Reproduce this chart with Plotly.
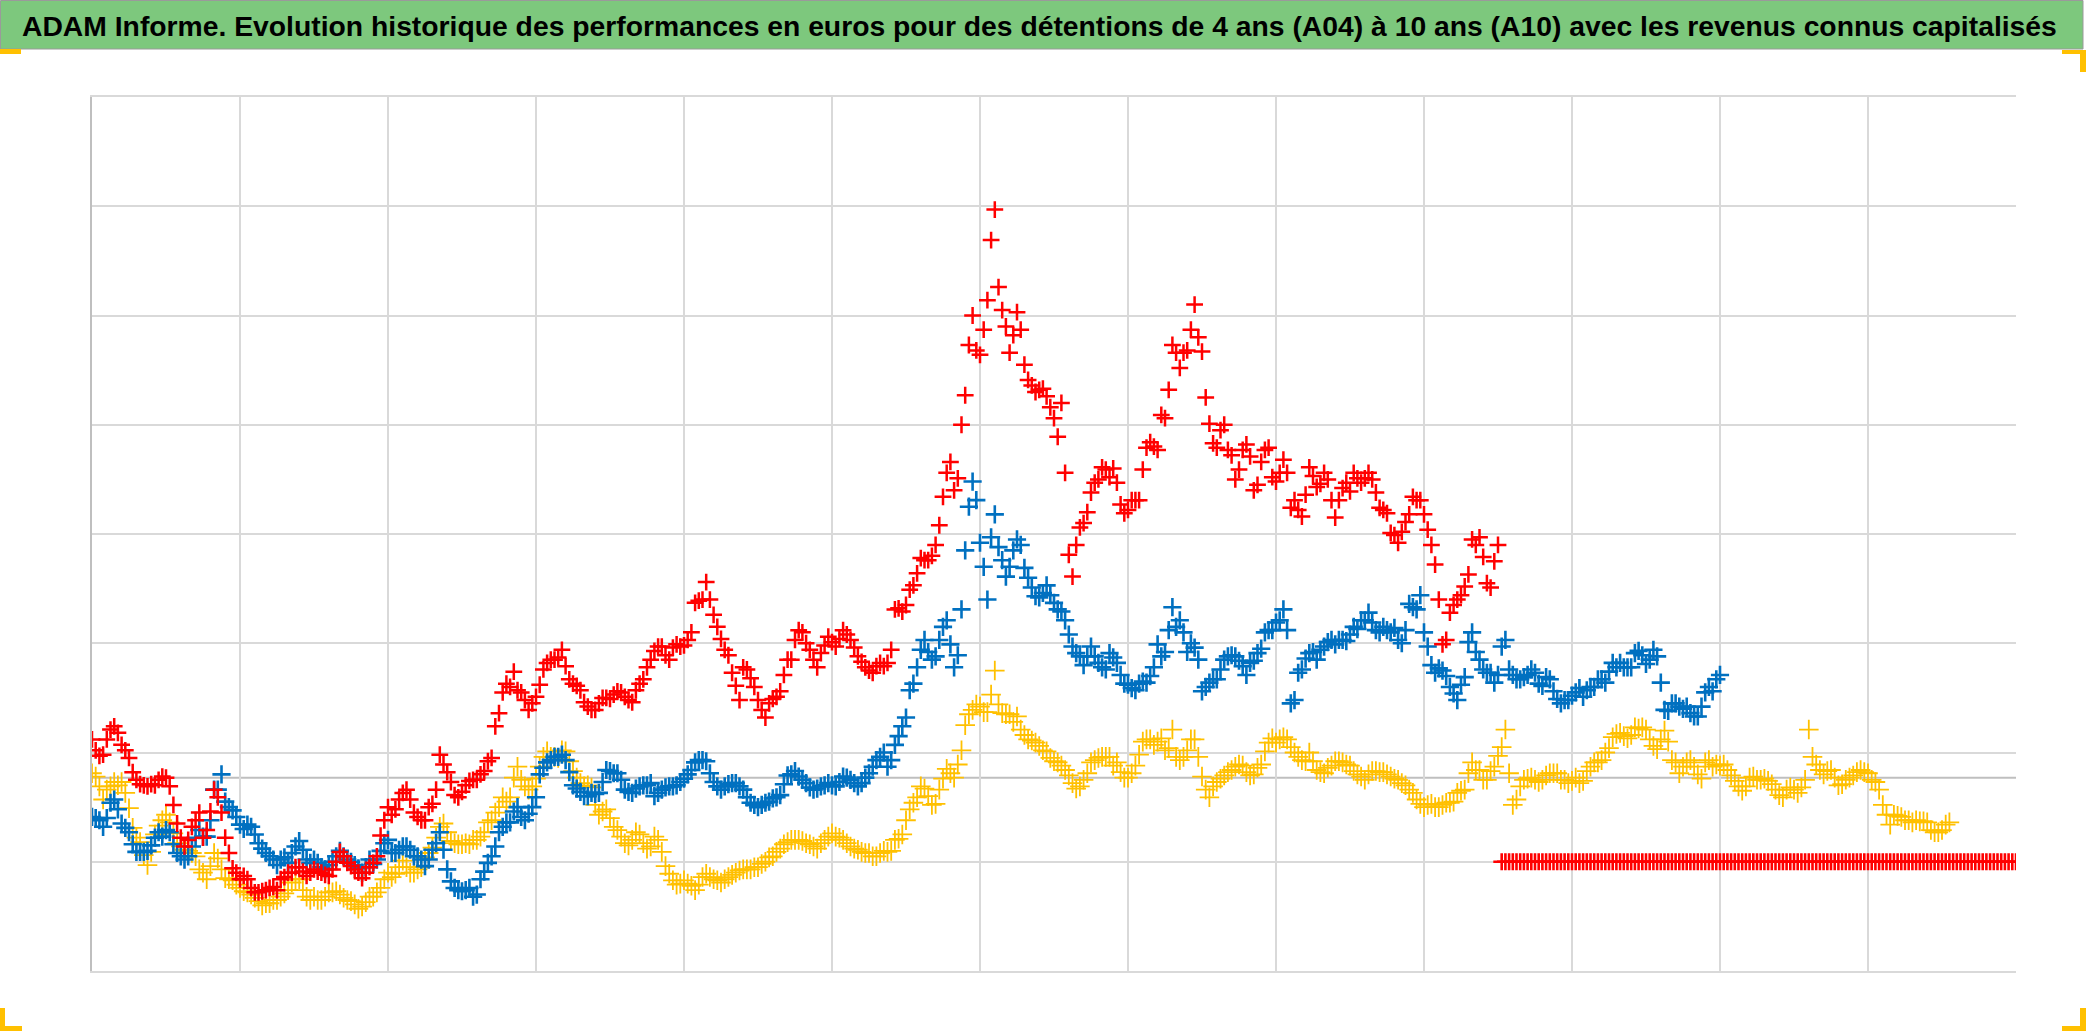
import plotly.graph_objects as go

# ---------------- data (x in grid-interval units, y in grid-interval units) ----------------
HALF_STEP = 0.025   # spacing between consecutive observations

# A10 (red): observations at even positions, then the in-between observations
a10_red = [1.12, 0.97, 1.12, 1.24, 1.07, 0.95, 0.75, 0.70, 0.71, 0.75,
           0.77, 0.52, 0.22, 0.20, 0.38, 0.22, 0.46, 0.59, 0.22, -0.06,
           -0.16, -0.16, -0.28, -0.27, -0.24, -0.26, -0.14, -0.10, -0.05, -0.13,
           -0.07, -0.10, -0.13, 0.00, 0.05, -0.04, -0.10, -0.10, -0.01, 0.24,
           0.50, 0.48, 0.63, 0.57, 0.41, 0.38, 0.53, 0.98, 0.82, 0.61,
           0.64, 0.74, 0.75, 0.83, 0.95, 1.36, 1.63, 1.74, 1.55, 1.39,
           1.51, 1.76, 1.85, 1.87, 1.79, 1.63, 1.57, 1.42, 1.39, 1.50,
           1.49, 1.56, 1.51, 1.46, 1.63, 1.78, 1.93, 1.97, 1.85, 1.99,
           1.98, 2.10, 2.39, 2.56, 2.26, 2.04, 1.89, 1.61, 1.78, 1.68,
           1.48, 1.32, 1.49, 1.56, 1.85, 2.03, 2.10, 1.94, 1.78, 1.98,
           2.01, 2.04, 2.08, 1.96, 1.83, 1.75, 1.79, 1.79, 1.94, 2.32,
           2.35, 2.53, 2.78, 2.76, 2.90, 3.34, 3.66, 3.51, 4.27, 5.00,
           4.64, 5.14, 5.97, 5.05, 4.66, 5.03, 4.55, 4.36, 4.32, 4.26,
           4.06, 4.20, 2.81, 2.90, 3.10, 3.38, 3.50, 3.59, 3.60, 3.27,
           3.22, 3.31, 3.59, 3.84, 3.77, 4.06, 4.73, 4.52, 4.68, 5.10,
           4.67, 4.01, 3.79, 4.00, 3.72, 3.59, 3.82, 3.40, 3.66, 3.79,
           3.48, 3.68, 3.24, 3.22, 3.36, 3.53, 3.46, 3.50, 3.15, 3.42,
           3.39, 3.51, 3.51, 3.50, 3.24, 3.19, 2.99, 3.02, 3.18, 3.31,
           3.18, 2.90, 2.40, 2.03, 2.35, 2.44, 2.63, 2.90, 2.79, 2.51,
           2.90]
a10_red_mid = [1.02, 0.98, 1.21, 1.18, 1.02, 0.82, 0.71, 0.69, 0.70, 0.78,
               0.69, 0.35, 0.14, 0.32, 0.45, 0.29, 0.66, 0.45, 0.08, -0.10,
               -0.13, -0.24, -0.28, -0.26, -0.23, -0.16, -0.10, -0.05, -0.09, -0.10,
               -0.09, -0.12, -0.07, 0.09, -0.01, -0.07, -0.15, -0.05, 0.05, 0.38,
               0.43, 0.57, 0.66, 0.45, 0.38, 0.50, 0.66, 0.89, 0.73, 0.59,
               0.70, 0.75, 0.80, 0.92, 1.24, 1.55, 1.60, 1.57, 1.48, 1.45,
               1.62, 1.82, 1.85, 1.94, 1.67, 1.61, 1.46, 1.39, 1.45, 1.50,
               1.53, 1.55, 1.48, 1.57, 1.67, 1.85, 1.97, 1.89, 1.96, 1.97,
               2.03, 2.37, 2.40, 2.40, 2.15, 1.94, 1.73, 1.48, 1.76, 1.60,
               1.39, 1.45, 1.51, 1.71, 1.85, 2.12, 2.00, 1.85, 1.91, 2.06,
               1.97, 2.12, 2.03, 1.88, 1.78, 1.73, 1.82, 1.82, 2.31, 2.29,
               2.49, 2.64, 2.76, 2.80, 3.08, 3.56, 3.40, 4.00, 4.73, 4.68,
               4.87, 5.69, 5.26, 4.90, 4.82, 4.87, 4.41, 4.30, 4.33, 4.16,
               3.89, 3.56, 2.61, 3.06, 3.20, 3.47, 3.61, 3.52, 3.47, 3.19,
               3.31, 3.31, 3.79, 3.80, 4.09, 4.32, 4.66, 4.66, 4.87, 4.80,
               4.25, 3.83, 3.95, 3.77, 3.50, 3.77, 3.71, 3.45, 3.77, 3.52,
               3.56, 3.56, 3.31, 3.16, 3.61, 3.43, 3.56, 3.31, 3.31, 3.47,
               3.56, 3.47, 3.56, 3.38, 3.22, 3.01, 2.92, 3.11, 3.34, 3.31,
               3.04, 2.72, 1.99, 2.28, 2.40, 2.52, 2.95, 2.97, 2.55, 2.75]
a10_red_empty = [0.0] * 140   # later dates without a known value, plotted at 0

blue_mid = [0.41, 0.38, 0.40, 0.57, 0.35, 0.27, 0.09, 0.09, 0.15, 0.27,
            0.29, 0.16, 0.05, 0.05, 0.22, 0.23, 0.38, 0.66, 0.55, 0.47,
            0.34, 0.34, 0.25, 0.12, 0.05, -0.03, 0.04, 0.08, 0.19, 0.02,
            0.02, -0.05, -0.03, 0.05, 0.05, 0.00, -0.06, -0.05, -0.02, 0.10,
            0.20, 0.08, 0.14, 0.11, 0.05, -0.04, 0.11, 0.27, -0.07, -0.24,
            -0.27, -0.24, -0.30, -0.09, 0.05, 0.27, 0.36, 0.46, 0.41, 0.44,
            0.59, 0.86, 0.93, 0.96, 0.93, 0.70, 0.64, 0.60, 0.62, 0.73,
            0.83, 0.81, 0.66, 0.63, 0.69, 0.70, 0.60, 0.66, 0.69, 0.70,
            0.76, 0.84, 0.93, 0.92, 0.73, 0.66, 0.71, 0.72, 0.66, 0.54,
            0.50, 0.54, 0.58, 0.61, 0.79, 0.83, 0.75, 0.68, 0.67, 0.70,
            0.70, 0.73, 0.77, 0.72, 0.72, 0.81, 0.93, 1.00, 0.93, 1.15,
            1.32, 1.63, 1.94, 1.92, 1.88, 2.15, 1.99, 1.89, 2.85, 3.48,
            2.92, 2.40, 3.18, 2.76, 2.70, 2.95, 2.69, 2.51, 2.42, 2.53,
            2.37, 2.29, 2.08, 1.91, 1.80, 1.97, 1.82, 1.76, 1.87, 1.71,
            1.62, 1.57, 1.65, 1.70, 1.99, 1.92, 2.33, 2.21, 1.92, 1.96,
            1.56, 1.64, 1.67, 1.85, 1.89, 1.84, 1.71, 1.84, 1.95, 2.12,
            2.19, 2.31, 1.45, 1.73, 1.86, 1.92, 1.94, 2.01, 1.99, 2.03,
            2.08, 2.13, 2.21, 2.19, 2.10, 2.12, 2.14, 2.00, 2.36, 2.31,
            2.10, 1.80, 1.77, 1.70, 1.54, 1.62, 2.01, 1.92, 1.76, 1.73,
            1.71, 2.03, 1.71, 1.67, 1.71, 1.73, 1.61, 1.67, 1.49, 1.48,
            1.52, 1.59, 1.57, 1.60, 1.67, 1.74, 1.78, 1.78, 1.78, 1.93,
            1.81, 1.94, 1.64, 1.38, 1.45, 1.40, 1.36, 1.33, 1.55, 1.56,
            1.71]
blue_mid_between = [0.40, 0.32, 0.54, 0.48, 0.31, 0.16, 0.09, 0.10, 0.22, 0.23,
                    0.27, 0.08, 0.02, 0.14, 0.29, 0.23, 0.66, 0.80, 0.50, 0.41,
                    0.30, 0.32, 0.17, 0.08, 0.02, 0.02, -0.01, 0.14, 0.11, -0.01,
                    -0.01, -0.07, 0.00, 0.10, 0.02, -0.03, -0.10, 0.02, 0.02, 0.17,
                    0.08, 0.11, 0.14, 0.05, 0.02, 0.02, 0.17, 0.11, -0.18, -0.26,
                    -0.26, -0.32, -0.16, -0.01, 0.14, 0.32, 0.36, 0.50, 0.38, 0.50,
                    0.80, 0.91, 0.96, 0.98, 0.82, 0.67, 0.60, 0.63, 0.63, 0.84,
                    0.81, 0.75, 0.64, 0.67, 0.70, 0.72, 0.63, 0.68, 0.69, 0.73,
                    0.80, 0.91, 0.93, 0.81, 0.69, 0.69, 0.72, 0.69, 0.59, 0.52,
                    0.52, 0.55, 0.59, 0.71, 0.80, 0.78, 0.72, 0.66, 0.69, 0.72,
                    0.69, 0.78, 0.75, 0.69, 0.77, 0.87, 0.96, 0.87, 1.07, 1.24,
                    1.57, 1.78, 2.03, 1.85, 2.03, 2.21, 1.78, 2.31, 3.25, 3.31,
                    2.70, 2.97, 2.88, 2.61, 2.85, 2.90, 2.60, 2.43, 2.46, 2.44,
                    2.31, 2.21, 1.97, 1.88, 1.88, 1.88, 1.78, 1.91, 1.82, 1.63,
                    1.59, 1.63, 1.64, 1.78, 1.88, 2.12, 2.15, 2.10, 2.00, 1.85,
                    1.60, 1.67, 1.76, 1.88, 1.88, 1.79, 1.82, 1.91, 2.10, 2.12,
                    2.21, 2.12, 1.48, 1.76, 1.91, 1.85, 1.97, 2.03, 2.03, 2.02,
                    2.15, 2.21, 2.28, 2.12, 2.15, 2.10, 2.03, 2.12, 2.33, 2.44,
                    1.97, 1.73, 1.75, 1.60, 1.48, 1.69, 2.10, 1.85, 1.73, 1.64,
                    1.97, 1.76, 1.67, 1.69, 1.76, 1.63, 1.69, 1.56, 1.45, 1.48,
                    1.55, 1.51, 1.60, 1.67, 1.64, 1.82, 1.82, 1.78, 1.91, 1.89,
                    1.85, 1.88, 1.39, 1.45, 1.42, 1.42, 1.33, 1.42, 1.60, 1.67]

a04_yellow = [0.81, 0.69, 0.66, 0.73, 0.73, 0.49, 0.22, 0.06, 0.09, 0.33,
              0.43, 0.26, 0.14, 0.10, 0.05, -0.10, -0.04, 0.03, -0.15, -0.17,
              -0.24, -0.28, -0.33, -0.40, -0.38, -0.35, -0.29, -0.19, -0.16, -0.32,
              -0.32, -0.35, -0.28, -0.27, -0.33, -0.36, -0.43, -0.37, -0.32, -0.24,
              -0.10, -0.11, 0.01, -0.10, -0.07, 0.04, 0.13, 0.32, 0.27, 0.17,
              0.16, 0.16, 0.20, 0.27, 0.38, 0.50, 0.55, 0.77, 0.75, 0.66,
              0.76, 0.96, 0.96, 0.95, 1.01, 0.83, 0.72, 0.70, 0.52, 0.46,
              0.40, 0.29, 0.17, 0.20, 0.25, 0.12, 0.23, 0.09, -0.11, -0.21,
              -0.17, -0.22, -0.21, -0.11, -0.16, -0.19, -0.14, -0.10, -0.07, -0.07,
              -0.05, 0.00, 0.05, 0.12, 0.18, 0.20, 0.19, 0.16, 0.12, 0.20,
              0.26, 0.22, 0.17, 0.12, 0.09, 0.08, 0.05, 0.10, 0.10, 0.21,
              0.38, 0.54, 0.69, 0.60, 0.53, 0.76, 0.81, 0.89, 1.25, 1.39,
              1.42, 1.37, 1.75, 1.36, 1.35, 1.33, 1.16, 1.11, 1.06, 1.01,
              0.92, 0.88, 0.79, 0.67, 0.75, 0.91, 0.95, 0.96, 0.88, 0.82,
              0.77, 0.88, 1.10, 1.12, 1.10, 1.02, 1.21, 0.93, 1.02, 1.12,
              0.78, 0.59, 0.73, 0.79, 0.84, 0.89, 0.82, 0.80, 0.89, 1.09,
              1.09, 1.14, 1.05, 0.96, 0.92, 0.92, 0.82, 0.86, 0.92, 0.91,
              0.88, 0.80, 0.75, 0.83, 0.82, 0.80, 0.76, 0.72, 0.66, 0.57,
              0.50, 0.53, 0.50, 0.54, 0.55, 0.65, 0.81, 0.84, 0.75, 0.83,
              0.97, 1.21, 0.52, 0.69, 0.76, 0.75, 0.75, 0.81, 0.81, 0.75,
              0.74, 0.72, 0.83, 0.91, 0.93, 1.04, 1.17, 1.15, 1.16, 1.22,
              1.21, 1.06, 1.12, 1.10, 0.91, 0.87, 0.93, 0.80, 0.91, 0.87,
              0.88, 0.84, 0.74, 0.65, 0.77, 0.75, 0.76, 0.71, 0.61, 0.66,
              0.66, 0.68, 1.21, 0.89, 0.80, 0.84, 0.70, 0.75, 0.79, 0.84,
              0.81, 0.73, 0.52, 0.34, 0.42, 0.38, 0.36, 0.37, 0.36, 0.27,
              0.29, 0.36]
a04_yellow_mid = [0.78, 0.57, 0.69, 0.70, 0.63, 0.31, 0.18, -0.03, 0.25, 0.38,
                  0.36, 0.17, 0.11, 0.08, -0.07, -0.16, 0.08, -0.07, -0.16, -0.21,
                  -0.27, -0.30, -0.36, -0.38, -0.35, -0.32, -0.26, -0.16, -0.26, -0.35,
                  -0.35, -0.32, -0.28, -0.30, -0.35, -0.39, -0.41, -0.32, -0.28, -0.16,
                  -0.14, -0.05, -0.05, -0.10, -0.05, 0.08, 0.22, 0.35, 0.19, 0.16,
                  0.17, 0.20, 0.23, 0.36, 0.45, 0.59, 0.59, 0.87, 0.69, 0.69,
                  0.87, 1.01, 0.96, 1.02, 0.92, 0.77, 0.69, 0.68, 0.43, 0.48,
                  0.32, 0.23, 0.15, 0.27, 0.17, 0.14, 0.20, -0.04, -0.17, -0.20,
                  -0.20, -0.26, -0.14, -0.14, -0.17, -0.16, -0.12, -0.08, -0.07, -0.05,
                  -0.02, 0.04, 0.09, 0.16, 0.20, 0.20, 0.17, 0.14, 0.17, 0.23,
                  0.23, 0.20, 0.14, 0.11, 0.08, 0.05, 0.08, 0.09, 0.20, 0.25,
                  0.48, 0.59, 0.67, 0.52, 0.66, 0.85, 0.77, 1.02, 1.35, 1.44,
                  1.37, 1.53, 1.44, 1.35, 1.28, 1.21, 1.12, 1.09, 1.02, 0.95,
                  0.91, 0.84, 0.72, 0.69, 0.81, 0.93, 0.96, 0.96, 0.91, 0.77,
                  0.81, 0.98, 1.12, 1.07, 1.13, 1.04, 0.96, 0.96, 1.12, 0.96,
                  0.66, 0.69, 0.76, 0.82, 0.87, 0.88, 0.79, 0.86, 1.01, 1.13,
                  1.12, 1.12, 1.00, 0.93, 1.00, 0.84, 0.81, 0.88, 0.92, 0.89,
                  0.83, 0.78, 0.80, 0.83, 0.82, 0.78, 0.75, 0.70, 0.63, 0.53,
                  0.52, 0.50, 0.52, 0.54, 0.63, 0.66, 0.91, 0.84, 0.75, 0.87,
                  1.05, 0.81, 0.57, 0.75, 0.77, 0.73, 0.79, 0.81, 0.75, 0.72,
                  0.77, 0.74, 0.87, 0.91, 1.00, 1.14, 1.18, 1.13, 1.23, 1.23,
                  1.12, 1.03, 1.20, 0.93, 0.81, 0.91, 0.87, 0.76, 0.93, 0.89,
                  0.89, 0.79, 0.69, 0.69, 0.78, 0.75, 0.74, 0.66, 0.59, 0.68,
                  0.63, 0.75, 0.96, 0.84, 0.83, 0.77, 0.71, 0.77, 0.82, 0.82,
                  0.75, 0.66, 0.43, 0.43, 0.41, 0.38, 0.38, 0.37, 0.29, 0.27,
                  0.34]

AXIS_CROSS = 0.77          # value where the horizontal axis crosses
X_RANGE = [0, 13]
Y_RANGE = [-1, 7]

TITLE = ("ADAM Informe. Evolution historique des performances en euros pour des "
         "détentions de 4 ans (A04) à 10 ans (A10) avec les revenus connus capitalisés")

RED, BLUE, YELLOW = "#FF0000", "#0070C0", "#FFC000"

# ---------------- figure ----------------
W, H = 2086, 1031
ML, MR, MT, MB = 92, 70, 97, 60
PW, PH = W - ML - MR, H - MT - MB


def px_x(X):
    return (X - ML) / PW


def px_y(Y):
    return (H - MB - Y) / PH


def interleave(main, between):
    out = []
    for k, v in enumerate(main):
        out.append(v)
        if k < len(between):
            out.append(between[k])
    return out


def xs(n, start=0):
    return [round((start + k) * HALF_STEP, 3) for k in range(n)]


fig = go.Figure()


def add_series(y, color, size, lw, name, start=0):
    fig.add_trace(go.Scatter(
        x=xs(len(y), start), y=y, mode="markers", name=name,
        marker=dict(symbol="cross-thin", size=size, color=color,
                    line=dict(width=lw, color=color)),
        showlegend=False, hoverinfo="skip"))


yellow_all = interleave(a04_yellow, a04_yellow_mid)
blue_all = interleave(blue_mid, blue_mid_between)
red_all = interleave(a10_red, a10_red_mid)

add_series(yellow_all, YELLOW, 14, 1.8, "A04")
add_series(blue_all, BLUE, 13, 2.6, "A07")
add_series(red_all, RED, 12, 2.5, "A10")
add_series(a10_red_empty, RED, 12, 2.6, "A10 (vide)", start=len(red_all))

shapes = []
# horizontal axis line
shapes.append(dict(type="line", xref="paper", yref="y", x0=0, x1=1,
                   y0=AXIS_CROSS, y1=AXIS_CROSS,
                   line=dict(color="#BFBFBF", width=2), layer="below"))
# green title bar
shapes.append(dict(type="rect", xref="paper", yref="paper",
                   x0=px_x(0.5), x1=px_x(2083), y0=px_y(49), y1=px_y(0.5),
                   fillcolor="#7DC87D", line=dict(color="#9A9A9A", width=1)))
# orange selection handles
OR = "#FFC000"
handles = [
    (0, 21, 49, 54),
    (2062, 2086, 50, 54),
    (2080, 2086, 50, 72),
    (0, 5, 1008, 1031),
    (0, 22, 1026, 1031),
    (2062, 2086, 1026, 1031),
    (2080, 2086, 1008, 1031),
]
for x0, x1, y0, y1 in handles:
    shapes.append(dict(type="rect", xref="paper", yref="paper",
                       x0=px_x(x0), x1=px_x(x1), y0=px_y(y1), y1=px_y(y0),
                       fillcolor=OR, line=dict(width=0)))

fig.update_layout(
    width=W, height=H,
    margin=dict(l=ML, r=MR, t=MT, b=MB, pad=0),
    paper_bgcolor="white", plot_bgcolor="white",
    shapes=shapes,
    annotations=[dict(text="<b>" + TITLE + "</b>", xref="paper", yref="paper",
                      x=px_x(20), y=px_y(26), xanchor="left", yanchor="middle",
                      showarrow=False,
                      font=dict(family="Liberation Sans, Arial", size=28.3, color="black"))],
    xaxis=dict(range=X_RANGE, dtick=1, tick0=0, showticklabels=False, ticks="",
               showgrid=True, gridcolor="#D9D9D9", gridwidth=1.5, zeroline=False,
               showline=True, linecolor="#D9D9D9", linewidth=1.5, mirror=True),
    yaxis=dict(range=Y_RANGE, dtick=1, tick0=0, showticklabels=False, ticks="",
               showgrid=True, gridcolor="#D9D9D9", gridwidth=1.5, zeroline=False,
               showline=True, linecolor="#BFBFBF", linewidth=2),
)

fig.write_html("out.html",
               config={"displayModeBar": False},
               post_script="document.body.style.margin='0';document.body.style.overflow='hidden';")
